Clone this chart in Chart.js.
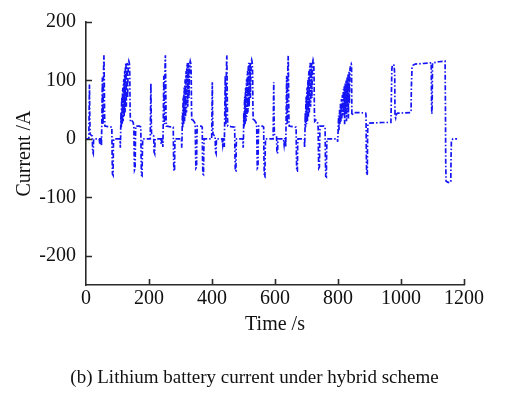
<!DOCTYPE html>
<html>
<head>
<meta charset="utf-8">
<script src="https://cdn.jsdelivr.net/npm/chart.js@4.4.1/dist/chart.umd.min.js"></script>
<style>
  html, body { margin: 0; padding: 0; background: #ffffff; }
  #wrap { position: relative; width: 521px; height: 394px; overflow: hidden; }
  #chart { position: absolute; left: 0; top: 0; }
  #caption {
    position: absolute; left: 0; width: 509px; top: 367px;
    text-align: center; font-family: "Liberation Serif", "Times New Roman", serif;
    font-size: 19px; line-height: 19px; color: #111; white-space: nowrap;
  }
</style>
</head>
<body>
<div id="wrap">
  <canvas id="chart" width="521" height="394"></canvas>
  <div id="caption">(b) Lithium battery current under hybrid scheme</div>
</div>
<script>
// [time s, current A]
const ece1 = [[0,0],[9,0],[10,50],[11,93],[12,40],[13,8],[17,6],[20,5],[21,-22],[23,-25],[24,-3],[25,0],[42,0],[44,-10],[46,0],[48,0],[49,-12],[50,20],[51,65],[52,105],[53,50],[54,25],[55,85],[56,125],[57,143],[58,100],[59,40],[60,22],[70,21],[82,20],[83,-30],[84,-60],[86,-62],[87,-10],[88,0],[108,0],[109,-15],[110,5],[111,45],[112,20],[113,60],[114,72],[115,25],[116,78],[117,88],[118,30],[119,92],[120,102],[121,38],[122,108],[123,116],[124,45],[125,120],[126,127],[127,130],[128,55],[129,85],[130,125],[131,130],[132,70],[133,100],[134,122],[135,130],[136,133],[137,131],[138,128],[139,110],[140,50],[141,30],[145,32],[150,28],[152,20],[153,-30],[154,-53],[156,-50],[157,0],[158,22],[170,22],[174,20],[175,-35],[176,-62],[178,-63],[179,-20],[180,0]];
const ece2 = [[195,0],[204,0],[205,50],[206,95],[207,40],[208,8],[212,6],[215,5],[216,-22],[218,-25],[219,-3],[220,0],[237,0],[239,-10],[241,0],[243,0],[244,-14],[245,20],[246,65],[247,108],[248,50],[249,25],[250,88],[251,125],[252,143],[253,100],[254,40],[255,22],[265,21],[277,20],[278,-30],[279,-55],[281,-55],[282,-10],[283,0],[303,0],[304,-15],[305,5],[306,45],[307,20],[308,60],[309,72],[310,25],[311,78],[312,88],[313,30],[314,92],[315,102],[316,38],[317,108],[318,116],[319,45],[320,120],[321,127],[322,130],[323,55],[324,85],[325,125],[326,130],[327,70],[328,100],[329,122],[330,130],[331,133],[332,131],[333,128],[334,110],[335,50],[336,30],[340,32],[345,28],[347,20],[348,-30],[349,-50],[351,-48],[352,0],[353,22],[365,22],[369,20],[370,-35],[371,-60],[373,-61],[374,-20],[375,0]];
const ece3 = [[390,0],[399,0],[400,50],[401,97],[402,40],[403,8],[407,6],[410,5],[411,-22],[413,-25],[414,-3],[415,0],[432,0],[434,-10],[436,0],[438,0],[439,-14],[440,20],[441,65],[442,108],[443,50],[444,25],[445,88],[446,125],[447,143],[448,100],[449,40],[450,22],[460,21],[472,20],[473,-30],[474,-55],[476,-55],[477,-10],[478,0],[498,0],[499,-15],[500,5],[501,45],[502,20],[503,60],[504,72],[505,25],[506,78],[507,88],[508,30],[509,92],[510,102],[511,38],[512,108],[513,116],[514,45],[515,120],[516,127],[517,130],[518,55],[519,85],[520,125],[521,130],[522,70],[523,100],[524,122],[525,132],[526,135],[527,133],[528,128],[529,110],[530,50],[531,30],[535,32],[540,28],[542,20],[543,-30],[544,-50],[546,-48],[547,0],[548,22],[560,22],[564,20],[565,-35],[566,-64],[568,-65],[569,-20],[570,0]];
const ece4 = [[585,0],[594,0],[595,50],[596,97],[597,40],[598,8],[602,6],[605,5],[606,-22],[608,-25],[609,-3],[610,0],[627,0],[629,-10],[631,0],[633,0],[634,-14],[635,20],[636,65],[637,108],[638,50],[639,25],[640,88],[641,125],[642,142],[643,100],[644,40],[645,22],[655,21],[667,20],[668,-30],[669,-55],[671,-55],[672,-10],[673,0],[693,0],[694,-15],[695,5],[696,45],[697,20],[698,60],[699,72],[700,25],[701,78],[702,88],[703,30],[704,92],[705,102],[706,38],[707,108],[708,116],[709,45],[710,120],[711,127],[712,130],[713,55],[714,85],[715,125],[716,130],[717,70],[718,100],[719,122],[720,132],[721,135],[722,133],[723,128],[724,110],[725,50],[726,30],[730,32],[735,28],[737,20],[738,-30],[739,-50],[741,-48],[742,0],[743,22],[755,22],[759,20],[760,-35],[761,-64],[763,-65],[764,-20],[765,0]];
const eudc = [[780,0],[798,0],[799,-5],[800,8],[802,40],[803,15],[805,50],[806,25],[808,60],[809,30],[811,68],[812,35],[814,75],[815,40],[817,85],[818,45],[820,90],[821,25],[823,95],[824,50],[826,100],[827,30],[829,105],[830,55],[832,110],[833,35],[835,115],[836,60],[838,120],[840,125],[842,128],[843,126],[844,40],[846,42],[850,45],[870,45],[888,44],[889,40],[890,-30],[891,-62],[893,-60],[894,10],[895,26],[900,27],[940,28],[968,28],[969,60],[971,120],[973,127],[978,126],[980,110],[981,40],[983,36],[985,42],[990,44],[1030,45],[1032,48],[1033,90],[1035,122],[1038,126],[1045,128],[1070,129],[1092,130],[1096,130],[1097,60],[1098,43],[1099,60],[1100,130],[1120,132],[1140,133],[1141,60],[1142,-40],[1143,-72],[1148,-74],[1155,-75],[1158,-73],[1159,-30],[1160,-3],[1165,0],[1178,0]];

const xTickValues = [0, 200, 400, 600, 800, 1000, 1200];
const yTickValues = [-200, -100, 0, 100, 200];
const xTitle = 'Time /s';
const yTitle = 'Current /A';

const seriesPoints = [...ece1, ...ece2, ...ece3, ...ece4, ...eudc].map(p => ({ x: p[0], y: p[1] }));

const FONT = '"Liberation Serif", "Times New Roman", serif';
const AXIS = '#2a2a2a';

const inwardTicks = {
  id: 'inwardTicks',
  afterDraw(chart) {
    const { ctx, chartArea, scales } = chart;
    ctx.save();
    ctx.strokeStyle = AXIS;
    ctx.lineWidth = 1.6;
    ctx.beginPath();
    yTickValues.forEach(v => {
      const py = Math.round(scales.y.getPixelForValue(v)) + 0.5;
      ctx.moveTo(chartArea.left, py);
      ctx.lineTo(chartArea.left + 6, py);
    });
    xTickValues.forEach(v => {
      if (v === 0) return;
      const px = Math.round(scales.x.getPixelForValue(v)) + 0.5;
      ctx.moveTo(px, chartArea.bottom);
      ctx.lineTo(px, chartArea.bottom - 6);
    });
    ctx.stroke();
    ctx.restore();
  }
};

new Chart(document.getElementById('chart'), {
  type: 'line',
  data: {
    datasets: [{
      data: seriesPoints,
      borderColor: 'rgb(20, 20, 245)',
      borderWidth: 1.7,
      borderDash: [5, 2, 1.5, 2],
      pointRadius: 0,
      fill: false,
      tension: 0
    }]
  },
  options: {
    responsive: false,
    animation: false,
    devicePixelRatio: 1,
    layout: { padding: { left: 0, top: 15, right: 57, bottom: 57 } },
    plugins: { legend: { display: false }, tooltip: { enabled: false }, title: { display: false } },
    scales: {
      x: {
        type: 'linear',
        min: 0, max: 1200,
        afterBuildTicks: s => { s.ticks = xTickValues.map(v => ({ value: v })); },
        afterFit: s => { s.height = 52; },
        grid: { display: false, drawTicks: false },
        border: { display: true, color: AXIS, width: 1.6 },
        ticks: { color: '#111', font: { family: FONT, size: 20 }, padding: 2, maxRotation: 0, autoSkip: false, callback: v => String(v) },
        title: { display: true, text: xTitle, color: '#111', font: { family: FONT, size: 20 }, padding: { top: 0, bottom: 0 } }
      },
      y: {
        type: 'linear',
        min: -250, max: 200,
        afterBuildTicks: s => { s.ticks = yTickValues.map(v => ({ value: v })); },
        afterFit: s => { s.width = 86; },
        grid: { display: false, drawTicks: false },
        border: { display: true, color: AXIS, width: 1.6 },
        ticks: { color: '#111', font: { family: FONT, size: 20 }, padding: 10, autoSkip: false, callback: v => String(v) },
        title: { display: true, text: yTitle, color: '#111', font: { family: FONT, size: 20 }, padding: { top: 13, bottom: 0 } }
      }
    }
  },
  plugins: [inwardTicks]
});
</script>
</body>
</html>
